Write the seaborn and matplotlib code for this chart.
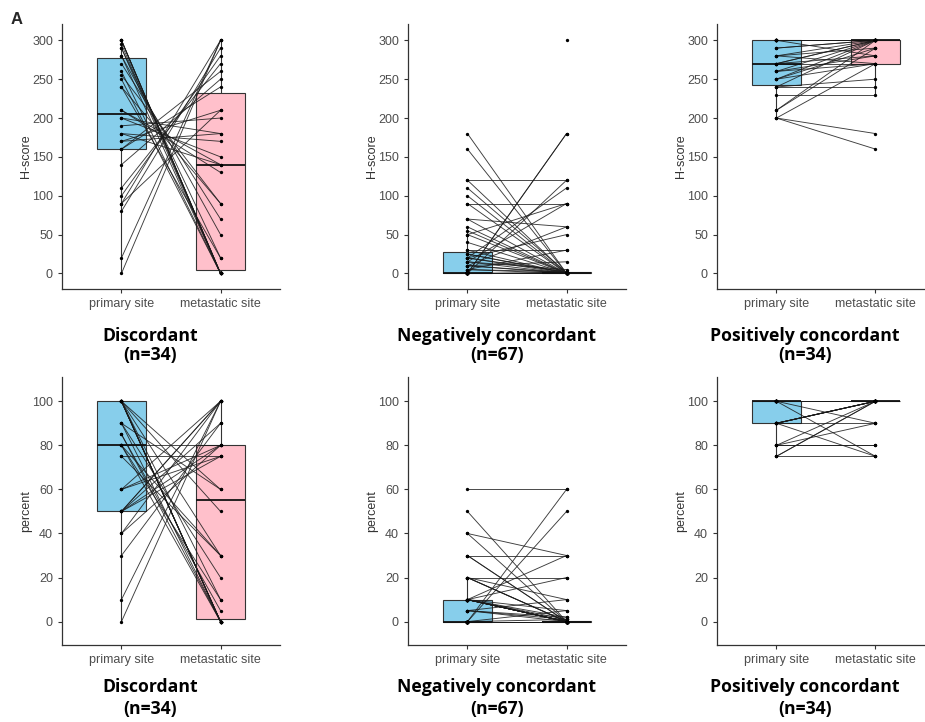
import numpy as np
import pandas as pd
import matplotlib
matplotlib.use("Agg")
import matplotlib.pyplot as plt
import seaborn as sns

# ---------------- data ----------------
sites = ["primary site", "metastatic site"]
group_names = ["Discordant", "Negatively concordant", "Positively concordant"]
group_n = ["(n=34)", "(n=67)", "(n=34)"]
ylabels = ["H-score", "percent"]
hscore_ticks = [0, 50, 100, 150, 200, 250, 300]
percent_ticks = [0, 20, 40, 60, 80, 100]

# Discordant, H-score (paired)
disc_h_primary = [0, 20, 80, 90, 90, 100, 110, 140, 160, 160, 170, 170, 180, 180, 190, 200, 200,
                  210, 210, 240, 240, 250, 255, 260, 270, 280, 280, 290, 290, 295, 300, 300, 300, 300]
disc_h_met = [300, 300, 290, 300, 210, 280, 270, 250, 260, 240, 180, 210, 170, 140, 200, 180, 150,
              140, 130, 90, 20, 0, 90, 0, 70, 50, 0, 20, 0, 0, 0, 0, 0, 0]

# Negatively concordant, H-score (paired; last pair has no primary value)
neg_h_primary = [180, 160, 120, 120, 110, 100, 90, 90, 70, 70, 60, 55, 50, 50, 40, 30, 30,
                 25, 25,
                 20, 20, 20, 20,
                 15, 15, 15,
                 10, 10, 10, 10,
                 5, 5, 5,
                 0, 0, 0, 0, 0, 0, 0, 0, 0, 0, 0, 0, 0, 0, 0, 0, 0,
                 0, 0, 0, 0, 0, 0, 0, 0, 0, 0, 0, 0, 0, 0, 0, 0, 0,
                 np.nan]
neg_h_met = [0, 0, 120, 0, 1, 0, 90, 0, 0, 60, 0, 0, 90, 0, 0, 30, 0,
             1, 0,
             110, 0, 2, 50,
             90, 5, 0,
             60, 15, 1, 0,
             30, 2, 0,
             180, 180, 120, 1, 1, 0, 0, 0, 0, 0, 0, 0, 0, 0, 0, 0, 0,
             0, 0, 0, 0, 0, 0, 0, 0, 0, 0, 0, 0, 0, 0, 0, 0, 0,
             300]

# Positively concordant, H-score (paired)
pos_h_primary = [200, 200, 200, 210, 210, 230, 240, 240, 240, 250, 250, 250, 260, 260, 260,
                 270, 270, 270, 270, 280, 280, 280, 290, 290,
                 300, 300, 300, 300, 300, 300, 300, 300, 300, 300]
pos_h_met = [160, 180, 270, 290, 300, 230, 240, 250, 300, 270, 300, 290, 300, 280, 270,
             270, 300, 300, 280, 300, 290, 270, 300, 300,
             300, 300, 300, 300, 300, 300, 300, 300, 300, 280]

# Discordant, percent (paired)
disc_p_primary = [0, 10, 30, 40, 40, 50, 50, 50, 50, 50, 60, 60, 60, 75, 75, 80, 80, 80, 80,
                  85, 85, 90, 90, 90, 100, 100, 100, 100, 100, 100, 100, 100, 100, 100]
disc_p_met = [100, 100, 90, 100, 80, 75, 100, 80, 90, 100, 75, 100, 80, 30, 75, 0, 10, 30, 80,
              5, 0, 0, 20, 60, 0, 0, 0, 0, 0, 0, 10, 30, 50, 60]

# Negatively concordant, percent (paired)
neg_p_primary = [60, 50, 40, 40, 30, 30, 30, 20, 20, 20, 20, 20,
                 10, 10, 10, 10, 10, 10, 10, 10, 10, 10, 10, 10, 10, 10, 10,
                 5, 5, 5, 5,
                 0, 0, 0, 0, 0, 0, 0, 0, 0, 0, 0, 0, 0, 0, 0, 0, 0, 0,
                 0, 0, 0, 0, 0, 0, 0, 0, 0, 0, 0, 0, 0, 0, 0, 0, 0, 0]
neg_p_met = [60, 0, 0, 30, 0, 0, 30, 0, 20, 0, 10, 0,
             0, 0, 0, 0, 0, 0, 0, 0, 0, 0, 30, 5, 2, 1, 20,
             1, 10, 2, 0,
             60, 50, 5, 1, 0, 0, 0, 0, 0, 0, 0, 0, 0, 0, 0, 0, 0, 0,
             0, 0, 0, 0, 0, 0, 0, 0, 0, 0, 0, 0, 0, 0, 0, 0, 0, 0]

# Positively concordant, percent (paired)
pos_p_primary = [75, 75, 75, 80, 80, 80, 80, 90, 90, 90, 90, 90, 90, 90, 90,
                 100, 100, 100, 100, 100, 100, 100, 100, 100, 100, 100, 100, 100, 100, 100,
                 100, 100, 100, 100]
pos_p_met = [75, 100, 100, 80, 80, 100, 90, 75, 90, 100, 100, 100, 100, 100, 100,
             75, 90, 100, 100, 100, 100, 100, 100, 100, 100, 100, 100, 100, 100, 100,
             100, 100, 100, 100]

panels = [
    [(disc_h_primary, disc_h_met), (neg_h_primary, neg_h_met), (pos_h_primary, pos_h_met)],
    [(disc_p_primary, disc_p_met), (neg_p_primary, neg_p_met), (pos_p_primary, pos_p_met)],
]

# ---------------- style ----------------
sns.set_style("ticks")
plt.rcParams["font.family"] = ["Liberation Sans", "DejaVu Sans"]

W, H = 925, 722
fig = plt.figure(figsize=(W / 100, H / 100), dpi=100)

box_colors = ["#87CEEB", "#FFC0CB"]
col_left = [62, 408, 717]
col_width = [218, 218, 208]
col_xmax = [1.6, 1.6, 1.5]
row_top = [24, 377]
row_height = [265, 268]
row_ylim = [(-20, 321), (-10.6, 111)]
row_ticks = [hscore_ticks, percent_ticks]
title_x = [150, 497, 805]
title_y = [(336, 355), (687, 709)]


def draw(ax, prim, met, ylabel, yticks, ylim, xmax):
    n = len(prim)
    df = pd.DataFrame({
        "pair": list(range(n)) + list(range(n)),
        "site": [sites[0]] * n + [sites[1]] * n,
        "value": list(prim) + list(met),
    })
    sns.boxplot(data=df, x="site", y="value", hue="site", order=sites, hue_order=sites,
                palette=box_colors, saturation=1, width=0.5, showfliers=False,
                showcaps=False, whis=1.5, linecolor="#333333", linewidth=0.8,
                medianprops=dict(color="#111111", linewidth=1.3),
                legend=False, ax=ax)
    sns.lineplot(data=df.dropna(), x="site", y="value", units="pair", estimator=None,
                 color="#1a1a1a", linewidth=0.65, alpha=0.85, ax=ax, legend=False)
    sns.stripplot(data=df, x="site", y="value", order=sites, jitter=False,
                  color="black", size=2.4, ax=ax, zorder=5)
    ax.set_xlim(-0.6, xmax)
    ax.set_ylim(*ylim)
    ax.set_yticks(yticks)
    ax.set_xlabel("")
    ax.set_ylabel(ylabel, color="#333333", fontsize=9)
    ax.tick_params(axis="both", length=3, width=0.8, color="#333333",
                   labelcolor="#4D4D4D", labelsize=9)
    for s in ["top", "right"]:
        ax.spines[s].set_visible(False)
    for s in ["left", "bottom"]:
        ax.spines[s].set_color("#333333")
        ax.spines[s].set_linewidth(0.9)


for r in range(2):
    for c in range(3):
        ax = fig.add_axes([col_left[c] / W, 1 - (row_top[r] + row_height[r]) / H,
                           col_width[c] / W, row_height[r] / H])
        prim, met = panels[r][c]
        draw(ax, prim, met, ylabels[r], row_ticks[r], row_ylim[r], col_xmax[c])
        ax.yaxis.set_label_coords(-30 / col_width[c], 0.5)
        fig.text(title_x[c] / W, 1 - title_y[r][0] / H, group_names[c],
                 ha="center", va="center", fontsize=12.7, fontweight="bold",
                 color="black", family=["Open Sans", "DejaVu Sans"])
        fig.text(title_x[c] / W, 1 - title_y[r][1] / H, group_n[c],
                 ha="center", va="center", fontsize=12.7, fontweight="bold",
                 color="black", family=["Open Sans", "DejaVu Sans"])

fig.text(17 / W, 1 - 19 / H, "A", ha="center", va="center", fontsize=12, fontweight="bold")

fig.savefig("out.png", dpi=100)
